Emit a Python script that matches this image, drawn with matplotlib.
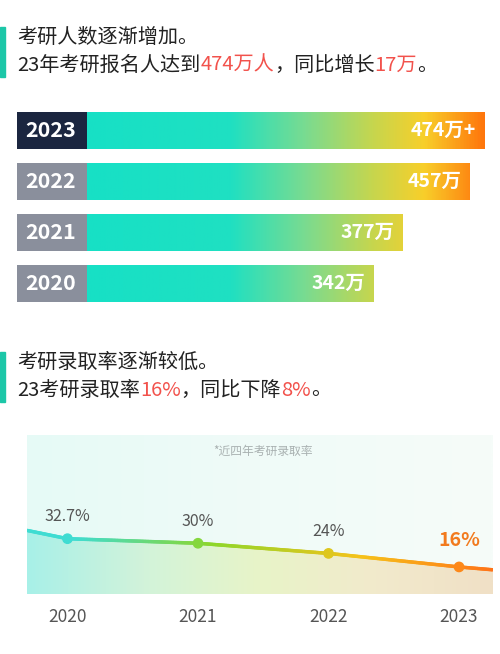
import numpy as np
import matplotlib
matplotlib.use("Agg")
import matplotlib.pyplot as plt
from matplotlib.colors import LinearSegmentedColormap
from matplotlib.collections import LineCollection

plt.rcParams['font.family'] = ['Noto Sans CJK SC', 'DejaVu Sans']

# data
years_bar = ["2023", "2022", "2021", "2020"]
applicants = [474, 457, 377, 342]
bar_labels = ["474万+", "457万", "377万", "342万"]

years_line = [2020, 2021, 2022, 2023]
rates = [32.7, 30, 24, 16]
rate_labels = ["32.7%", "30%", "24%", "16%"]
edge_x = [2019.69, 2023.26]
edge_rates = [37.6, 14.3]

W, H = 500, 654
fig = plt.figure(figsize=(W / 100, H / 100), dpi=100)
fig.patch.set_facecolor("white")

def box(l, t, r, b):
    return [l / W, 1 - b / H, (r - l) / W, (b - t) / H]

base = fig.add_axes([0, 0, 1, 1])
base.set_xlim(0, W)
base.set_ylim(H, 0)
base.axis("off")

def rich(x, y, parts, size=14.5):
    r = fig.canvas.get_renderer()
    for s, c in parts:
        t = base.text(x, y, s, color=c, fontsize=size, va="center", ha="left")
        bb = t.get_window_extent(renderer=r)
        x += bb.width

red = "#F2524C"
dark = "#222222"

# section 1 header
base.add_patch(plt.Rectangle((0, 27), 5, 50, color="#1CC7A8"))
rich(17, 37, [("考研人数逐渐增加。", dark)])
rich(17, 65, [("23年考研报名人达到", dark), ("474万人", red), ("，同比增长", dark), ("17万", red), ("。", dark)])

# bars
ax = fig.add_axes(box(17, 104.5, 484, 309.5))
left_box = 70 / 397 * 474
ax.set_xlim(-left_box, 474)
ax.set_ylim(3.5, -0.5)
ax.axis("off")
ypos = np.arange(len(years_bar))
cmap = LinearSegmentedColormap.from_list("g", [(0, "#17E0C6"), (0.36, "#1FE0C2"), (0.55, "#7ADB90"),
                                               (0.72, "#C6D64E"), (0.85, "#F8CF2A"), (1, "#FF760C")])
grad = np.linspace(0, 1, 400)[None, :]
bars = ax.barh(ypos, applicants, height=0.725, color="none")
for i, b in enumerate(bars):
    im = ax.imshow(grad, cmap=cmap, aspect="auto", extent=[0, 474, 3.5, -0.5], zorder=1)
    im.set_clip_path(b)
    ax.text(applicants[i] - 10, ypos[i], bar_labels[i], color="white", fontsize=14,
            fontweight="bold", ha="right", va="center", zorder=3)
box_cols = ["#1B2640"] + ["#8A8F9C"] * 3
ax.barh(ypos, left_box, left=-left_box, height=0.725, color=box_cols, zorder=2)
for i, y in enumerate(years_bar):
    ax.text(-left_box + 8 / 397 * 474, ypos[i], y, color="white", fontsize=15.5,
            fontweight="bold", ha="left", va="center", zorder=3)
ax.set_xlim(-left_box, 474)
ax.set_ylim(3.5, -0.5)

# section 2 header
base.add_patch(plt.Rectangle((0, 352), 5, 50, color="#1CC7A8"))
rich(17, 362, [("考研录取率逐渐较低。", dark)])
rich(17, 390, [("23考研录取率", dark), ("16%", red), ("，同比下降", dark), ("8%", red), ("。", dark)])

# line chart
lx = fig.add_axes(box(27, 435, 493, 594))
x0, x1 = edge_x
lx.set_xlim(x0, x1)
lx.set_ylim(0, 94)
lx.axis("off")
bg = LinearSegmentedColormap.from_list("bg", ["#E6FAF6", "#F0FBF8", "#F6FCF9"])
lx.imshow(grad, cmap=bg, aspect="auto", extent=[x0, x1, 0, 94], zorder=0)
xs = [x0] + years_line + [x1]
ys = [edge_rates[0]] + rates + [edge_rates[1]]
fillc = LinearSegmentedColormap.from_list("f", ["#A8F0E8", "#D2F3DA", "#E8F4C8", "#F2EACC", "#F0E0C6"])
poly = lx.fill_between(xs, ys, 0, color="none")
im = lx.imshow(grad, cmap=fillc, aspect="auto", extent=[x0, x1, 0, 94], zorder=1)
im.set_clip_path(poly.get_paths()[0], transform=lx.transData)

linec = LinearSegmentedColormap.from_list("l", [(0, "#3FDCD2"), (0.1, "#3FDCD2"), (0.4, "#8ED62A"),
                                                (0.72, "#F6C21A"), (1, "#FF7418")])
xf = np.linspace(x0, x1, 300)
yf = np.interp(xf, xs, ys)
pts = np.column_stack([xf, yf]).reshape(-1, 1, 2)
segs = np.concatenate([pts[:-1], pts[1:]], axis=1)
lc = LineCollection(segs, colors=linec((xf[:-1] - x0) / (x1 - x0)), linewidth=2.5, zorder=3,
                    capstyle="round")
lx.add_collection(lc)
pcols = linec((np.array(years_line) - x0) / (x1 - x0))
lx.scatter(years_line, rates, s=45, color=pcols, zorder=4)
for i, (x, y) in enumerate(zip(years_line, rates)):
    if i == 3:
        lx.text(x, y + 10, rate_labels[i], color="#F27A1E", fontsize=14, fontweight="bold",
                ha="center", va="bottom")
    else:
        lx.text(x, y + 8, rate_labels[i], color="#555555", fontsize=11.5, ha="center", va="bottom")
    lx.text(x, -8, str(x), color="#555555", fontsize=12.5, ha="center", va="top", clip_on=False)
lx.text(2021.5, 84, "*近四年考研录取率", color="#A8B0B0", fontsize=8.5, ha="center", va="center")

fig.savefig("out.png", dpi=100)
